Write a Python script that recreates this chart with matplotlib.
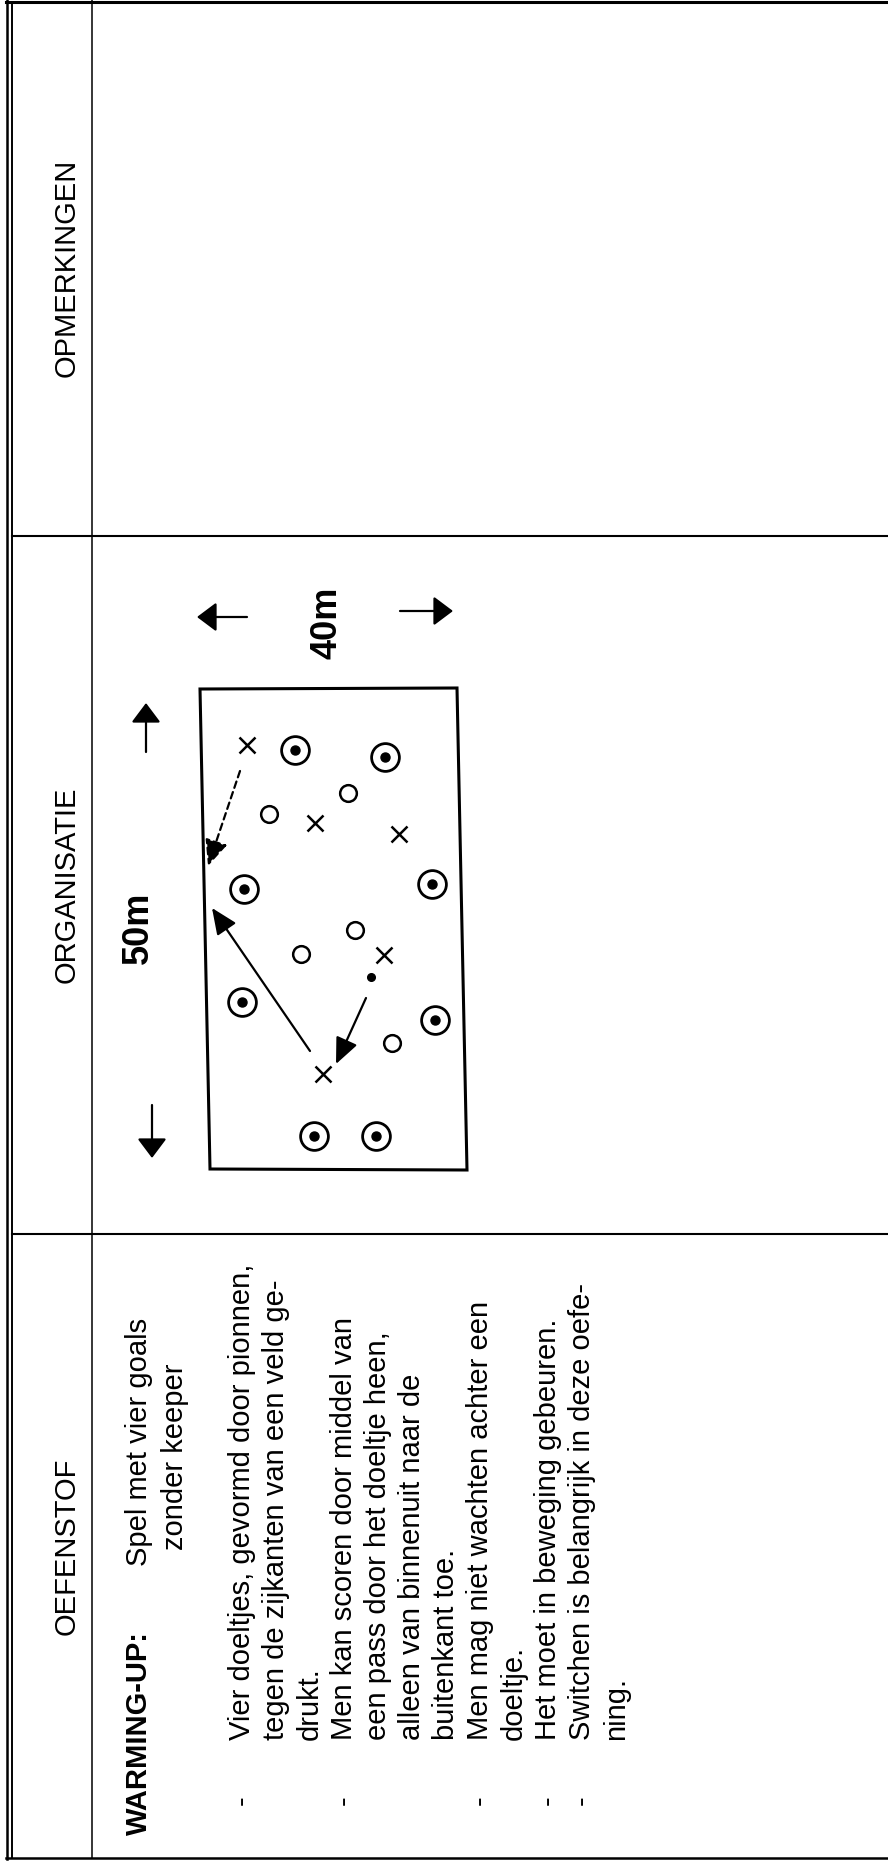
import matplotlib
matplotlib.use("Agg")
import matplotlib.pyplot as plt
from matplotlib.patches import Polygon

plt.rcParams['font.family'] = ['Liberation Sans', 'DejaVu Sans']

# kolomkoppen (van boven naar beneden in de gedraaide pagina)
headers = ['OPMERKINGEN', 'ORGANISATIE', 'OEFENSTOF']
section_edges = [0, 536, 1234, 1858]

# tekst oefenstof
title_label = 'WARMING-UP:'
title_text = ['Spel met vier goals', 'zonder keeper']
body_lines = [
    'Vier doeltjes, gevormd door pionnen,',
    'tegen de zijkanten van een veld ge-',
    'drukt.',
    'Men kan scoren door middel van',
    'een pass door het doeltje heen,',
    'alleen van binnenuit naar de',
    'buitenkant toe.',
    'Men mag niet wachten achter een',
    'doeltje.',
    'Het moet in beweging gebeuren.',
    'Switchen is belangrijk in deze oefe-',
    'ning.',
]
bullet_rows = [0, 3, 7, 9, 10]

# organisatie: veld en spelers (pixel coordinaten van de scan)
field_x = [200, 457, 467, 210]
field_y = [689, 688, 1170, 1169]
goals_x = [295, 385, 244, 432, 242, 435, 314, 376]
goals_y = [750, 757, 889, 884, 1002, 1020, 1136, 1136]
open_x = [348, 269, 355, 301, 392]
open_y = [793, 814, 930, 954, 1043]
cross_x = [247, 315, 399, 384, 323]
cross_y = [745, 823, 834, 955, 1074]
ball_x = [371]
ball_y = [977]
# pijlen: (start x, start y, eind x, eind y)
dashed_arrow = (240, 771, 208, 866)
solid_arrows = [(310, 1051, 212, 908), (366, 998, 336, 1064)]
dim_arrows = [(146, 752, 146, 703), (152, 1105, 152, 1158),
              (247, 617, 197, 617), (400, 611, 453, 611)]
dim_labels = ['50m', '40m']
dim_pos = [(138, 928), (327, 623)]

fig = plt.figure(figsize=(8.88, 18.62), dpi=100)
ax = fig.add_axes([0, 0, 1, 1])
ax.set_xlim(0, 888)
ax.set_ylim(1862, 0)
ax.axis('off')

# kader
ax.plot([7.3, 7.3], [0, 1859], color='k', lw=1.8)
ax.plot([12, 12], [2, 1858], color='k', lw=1.4)
ax.plot([92, 92], [0, 1858], color='k', lw=1.1)
ax.plot([6, 888], [1.5, 1.5], color='k', lw=2.2)
ax.plot([6, 888], [1858, 1858], color='k', lw=1.8)
for yy in section_edges[1:3]:
    ax.plot([12, 888], [yy, yy], color='k', lw=1.5)

# kopjes
for name, y0, y1 in zip(headers, section_edges[:-1], section_edges[1:]):
    ax.text(75, (y0 + y1) / 2, name, rotation=90, rotation_mode='anchor',
            ha='center', va='baseline', fontsize=21)

# oefenstof tekst
ax.text(147, 1835, title_label, rotation=90, rotation_mode='anchor',
        ha='left', va='baseline', fontsize=21, fontweight='bold')
ax.text(147, 1566, title_text[0], rotation=90, rotation_mode='anchor',
        ha='left', va='baseline', fontsize=21)
ax.text(183, 1550, title_text[1], rotation=90, rotation_mode='anchor',
        ha='left', va='baseline', fontsize=21)
for i, line in enumerate(body_lines):
    bx = 250 + 34 * i
    ax.text(bx, 1740, line, rotation=90, rotation_mode='anchor',
            ha='left', va='baseline', fontsize=21)
    if i in bullet_rows:
        ax.text(bx, 1800, '-', rotation=90, rotation_mode='anchor',
                ha='center', va='baseline', fontsize=21)

# veld
ax.add_patch(Polygon(list(zip(field_x, field_y)), closed=True, fill=False,
                     ec='k', lw=2.2))
ax.plot(goals_x, goals_y, 'o', ms=20, mfc='none', mec='k', mew=2.0)
ax.plot(goals_x, goals_y, 'o', ms=6.5, color='k')
ax.plot(open_x, open_y, 'o', ms=12, mfc='none', mec='k', mew=1.8)
ax.plot(cross_x, cross_y, 'x', ms=12, color='k', mew=1.8)
ax.plot(ball_x, ball_y, 'o', ms=5.5, color='k')

x0, y0, x1, y1 = dashed_arrow
ax.annotate('', xy=(x1, y1), xytext=(x0, y0),
            arrowprops=dict(arrowstyle='-|>,head_length=0.8,head_width=0.35',
                            color='k', lw=1.6, ls=(0, (3, 2)), mutation_scale=20,
                            shrinkA=0, shrinkB=0))
for x0, y0, x1, y1 in solid_arrows:
    ax.annotate('', xy=(x1, y1), xytext=(x0, y0),
                arrowprops=dict(arrowstyle='-|>,head_length=0.8,head_width=0.35',
                                color='k', lw=1.6, mutation_scale=20,
                                shrinkA=0, shrinkB=0))
for x0, y0, x1, y1 in dim_arrows:
    ax.annotate('', xy=(x1, y1), xytext=(x0, y0),
                arrowprops=dict(arrowstyle='-|>,head_length=0.6,head_width=0.45',
                                color='k', lw=1.6, mutation_scale=20,
                                shrinkA=0, shrinkB=0))
for lab, (lx, ly) in zip(dim_labels, dim_pos):
    ax.text(lx, ly, lab, rotation=90, rotation_mode='anchor',
            ha='center', va='center', fontsize=26, fontweight='bold')

fig.savefig('out.png', dpi=100, facecolor='white')
